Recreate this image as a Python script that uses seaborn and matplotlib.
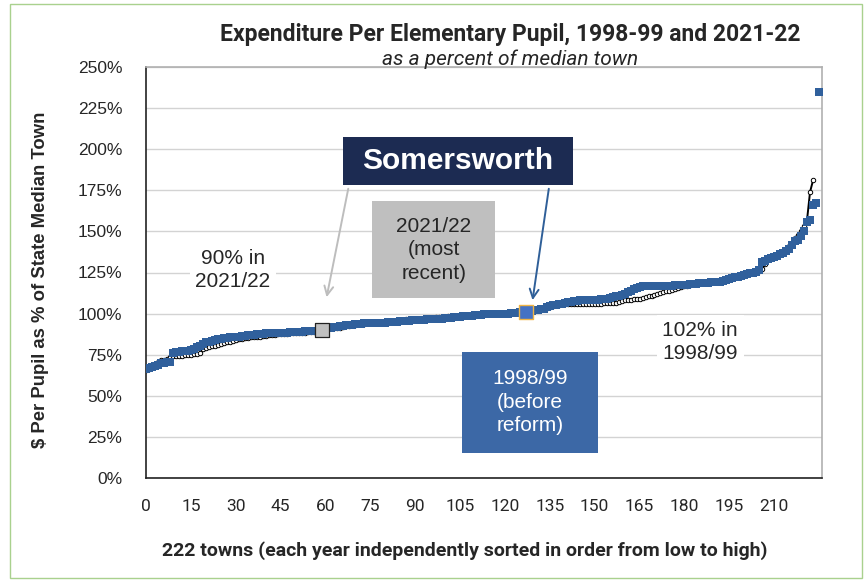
import numpy as np
import pandas as pd
import matplotlib
matplotlib.use("Agg")
import matplotlib.pyplot as plt
import seaborn as sns
from matplotlib.patches import Rectangle

# per-pupil spending as % of state median town, each year sorted low -> high
vals_1998 = [
    66, 67, 67.5, 68, 69, 70, 70, 70.5, 70.5, 76, 76.5, 76.5, 77, 77, 77.5,
    78, 78.5, 79.5, 80.5, 81.5, 82.5, 83, 83.5, 84, 84.5, 84.5, 85, 85, 85.5, 85.5,
    86, 86, 86.5, 86.5, 87, 87, 87, 87.5, 87.5, 87.5, 88, 88, 88, 88, 88.5,
    88.5, 88.5, 88.5, 89, 89, 89, 89, 89, 89.5, 89.5, 89.5, 89.5, 89.5, 90, 90,
    90.5, 91, 91.5, 92, 92, 92.5, 92.5, 93, 93, 93, 93.5, 93.5, 93.5, 94, 94,
    94, 94, 94.5, 94.5, 94.5, 94.5, 95, 95, 95, 95, 95.5, 95.5, 95.5, 95.5, 96,
    96, 96, 96, 96, 96.5, 96.5, 96.5, 97, 97, 97, 97.5, 97.5, 97.5, 98, 98,
    98, 98.5, 98.5, 98.5, 98.5, 99, 99, 99, 99.5, 99.5, 99.5, 99.5, 100, 100, 100,
    100, 100, 100.5, 100.5, 100.5, 101, 101, 101, 101.5, 101.5, 102, 102, 102.5, 103, 104,
    104.5, 105, 105.5, 106, 106, 106.5, 107, 107, 107.5, 107.5, 108, 108, 108, 108.5, 108.5,
    108.5, 108.5, 109, 109, 109, 109.5, 110, 110.5, 111, 111.5, 112, 113, 114, 115, 115.5,
    116, 116.5, 116.5, 117, 117, 117, 117, 117, 117, 117, 117, 117, 117.5, 117.5, 117.5,
    117.5, 117.5, 118, 118, 118, 118.5, 118.5, 118.5, 118.5, 119, 119, 119.5, 119.5, 120, 120.5,
    121, 121.5, 122, 122.5, 123, 123.5, 124, 124.5, 125, 125.5, 126.5, 131.5, 132, 133, 134,
    134.5, 135, 136, 137, 138, 139, 142, 144, 145, 147, 150, 156, 157, 166, 167, 235,
]

vals_2021 = [
    65.5, 66.5, 68, 69.5, 70.5, 71.5, 72, 72.5, 73.5, 74, 74, 74.5, 74.5, 75, 75,
    75, 75.5, 75.5, 76, 78.5, 79, 79.5, 80, 80.5, 81, 81.5, 82, 82.5, 83, 83.5,
    84, 84.5, 84.5, 85, 85, 85.5, 85.5, 86, 86, 86.5, 86.5, 87, 87, 87, 87.5,
    87.5, 87.5, 87.5, 88, 88, 88, 88.5, 88.5, 88.5, 89, 89, 89, 89, 89.5, 89.5,
    90, 90.5, 91, 91, 91.5, 91.5, 92, 92.5, 92.5, 93, 93, 93.5, 93.5, 93.5, 94,
    94, 94, 94.5, 94.5, 94.5, 95, 95, 95.5, 95.5, 95.5, 96, 96, 96.5, 96.5, 96.5,
    96.5, 97, 97, 97, 97.5, 97.5, 97.5, 98, 98, 98, 98, 98.5, 98.5, 98.5, 98.5,
    99, 99, 99, 99, 99.5, 99.5, 99.5, 99.5, 100, 100, 100, 100, 100, 100.5, 100.5,
    100.5, 100.5, 101, 101, 101, 101, 101.5, 101.5, 101.5, 102, 102, 102.5, 102.5, 103, 103.5,
    104, 104.5, 105, 105.5, 106, 106, 106, 106, 106, 106, 106, 106, 106, 106, 106,
    106, 106, 106, 106.5, 106.5, 106.5, 106.5, 106.5, 107, 107.5, 108, 108, 108.5, 109, 109,
    109, 109.5, 110, 110.5, 111, 111.5, 112, 112.5, 113, 113.5, 114, 114.5, 115, 115.5, 116,
    116.5, 117, 117.5, 118, 118, 118.5, 118.5, 118.5, 119, 119, 119, 119.5, 119.5, 120, 120.5,
    121, 121.5, 122, 122.5, 123, 123.5, 124, 124.5, 125, 125.5, 126, 127, 130, 133.5, 134.5,
    135, 136, 137, 138, 139, 141, 143, 146, 148, 150, 153, 157, 174, 181,
]

# Somersworth rank / value in each sorted list
somers_rank_2021, somers_val_2021 = 59, 90
somers_rank_1998, somers_val_1998 = 127, 101

y_ticks = list(range(0, 251, 25))
x_ticks = list(range(0, 211, 15))

df98 = pd.DataFrame({"rank": np.arange(len(vals_1998)), "pct": vals_1998})
df21 = pd.DataFrame({"rank": np.arange(len(vals_2021)), "pct": vals_2021})

sns.set_style("white")
plt.rcParams["font.family"] = ["Liberation Sans", "DejaVu Sans"]

fig = plt.figure(figsize=(8.66, 5.82), dpi=100)
ax = fig.add_axes([146 / 866, 1 - 478 / 582, (822 - 146) / 866, (478 - 67) / 582])

blue = "#30609c"

sns.lineplot(data=df21, x="rank", y="pct", ax=ax, color="black", lw=1.4,
             marker="o", markersize=3.2, markerfacecolor="white",
             markeredgecolor="black", markeredgewidth=0.7, zorder=3)
sns.scatterplot(data=df98, x="rank", y="pct", ax=ax, color=blue, marker="s",
                s=30, linewidth=0, zorder=4)

ax.scatter([somers_rank_2021], [somers_val_2021], marker="s", s=110,
           facecolor="#c0c0c0", edgecolor="#222222", linewidth=0.9, zorder=6)
ax.scatter([somers_rank_1998], [somers_val_1998], marker="s", s=110,
           facecolor="#4472c4", edgecolor="#f0b444", linewidth=1.0, zorder=6)

ax.set_xlim(0, 226)
ax.set_ylim(0, 250)
ax.set_yticks(y_ticks)
ax.set_yticklabels([f"{v}%" for v in y_ticks], fontsize=12.5)
ax.set_xticks(x_ticks)
ax.set_xticklabels([str(v) for v in x_ticks], fontsize=12.5, family="Roboto")
ax.tick_params(axis="y", length=0, pad=17)
ax.tick_params(axis="x", length=0, pad=15)
ax.grid(axis="y", color="#d3d3d3", lw=1)
ax.set_axisbelow(True)
for s in ["left", "bottom"]:
    ax.spines[s].set_color("#222222")
    ax.spines[s].set_linewidth(1.2)
for s in ["top", "right"]:
    ax.spines[s].set_color("#b0b0b0")
    ax.spines[s].set_linewidth(1.2)

ax.set_xlabel("222 towns (each year independently sorted in order from low to high)",
              fontsize=14, fontweight="bold", family="Roboto")
ax.xaxis.set_label_coords(0.472, -0.153)
ax.set_ylabel("$ Per Pupil as % of State Median Town", fontsize=13.3,
              fontweight="bold")
ax.yaxis.set_label_coords(-0.143, 0.482)

fig.text(0.589, 1 - 35 / 582, "Expenditure Per Elementary Pupil, 1998-99 and 2021-22",
         ha="center", va="center", fontsize=16.5, fontweight="bold", family="Roboto")
fig.text(0.589, 1 - 59 / 582, "as a percent of median town", ha="center",
         va="center", fontsize=15, style="italic", family="Roboto")

# annotation boxes
ax.add_patch(Rectangle((65.9, 178.2), 76.9, 29.2, facecolor="#1c2b52",
                       edgecolor="none", zorder=7, clip_on=False))
ax.text(104.3, 192.8, "Somersworth", ha="center", va="center", color="white",
        fontsize=21.5, fontweight="bold", zorder=8)

ax.add_patch(Rectangle((75.6, 109.5), 41.1, 59.0, facecolor="#bfbfbf",
                       edgecolor="none", zorder=7))
ax.text(96.2, 138.7, "2021/22\n(most\nrecent)", ha="center", va="center",
        fontsize=15, linespacing=1.3, zorder=8)

ax.add_patch(Rectangle((105.7, 15.2), 45.5, 61.4, facecolor="#3c68a6",
                       edgecolor="none", zorder=7))
ax.text(128.4, 46.0, "1998/99\n(before\nreform)", ha="center", va="center",
        color="white", fontsize=15, linespacing=1.3, zorder=8)

ax.text(29.1, 126.5, "90% in\n2021/22", ha="center", va="center", fontsize=15,
        linespacing=1.3, zorder=8,
        bbox=dict(facecolor="white", edgecolor="none", pad=4))
ax.text(185.3, 82.7, "102% in\n1998/99", ha="center", va="center", fontsize=15,
        linespacing=1.3, zorder=8,
        bbox=dict(facecolor="white", edgecolor="none", pad=4))

ax.annotate("", xy=(60.2, 108.3), xytext=(67.8, 177.6),
            arrowprops=dict(arrowstyle="->", color="#bdbdbd", lw=1.4,
                            mutation_scale=16), zorder=8)
ax.annotate("", xy=(129.1, 106.5), xytext=(134.8, 177.6),
            arrowprops=dict(arrowstyle="->", color="#2f5f98", lw=1.4,
                            mutation_scale=16), zorder=8)

# outer chart-area border
fig.add_artist(Rectangle((10 / 866, 4 / 582), 852 / 866, 574 / 582,
                         transform=fig.transFigure, fill=False,
                         edgecolor="#a9d18e", lw=1))

fig.savefig("out.png", dpi=100)
